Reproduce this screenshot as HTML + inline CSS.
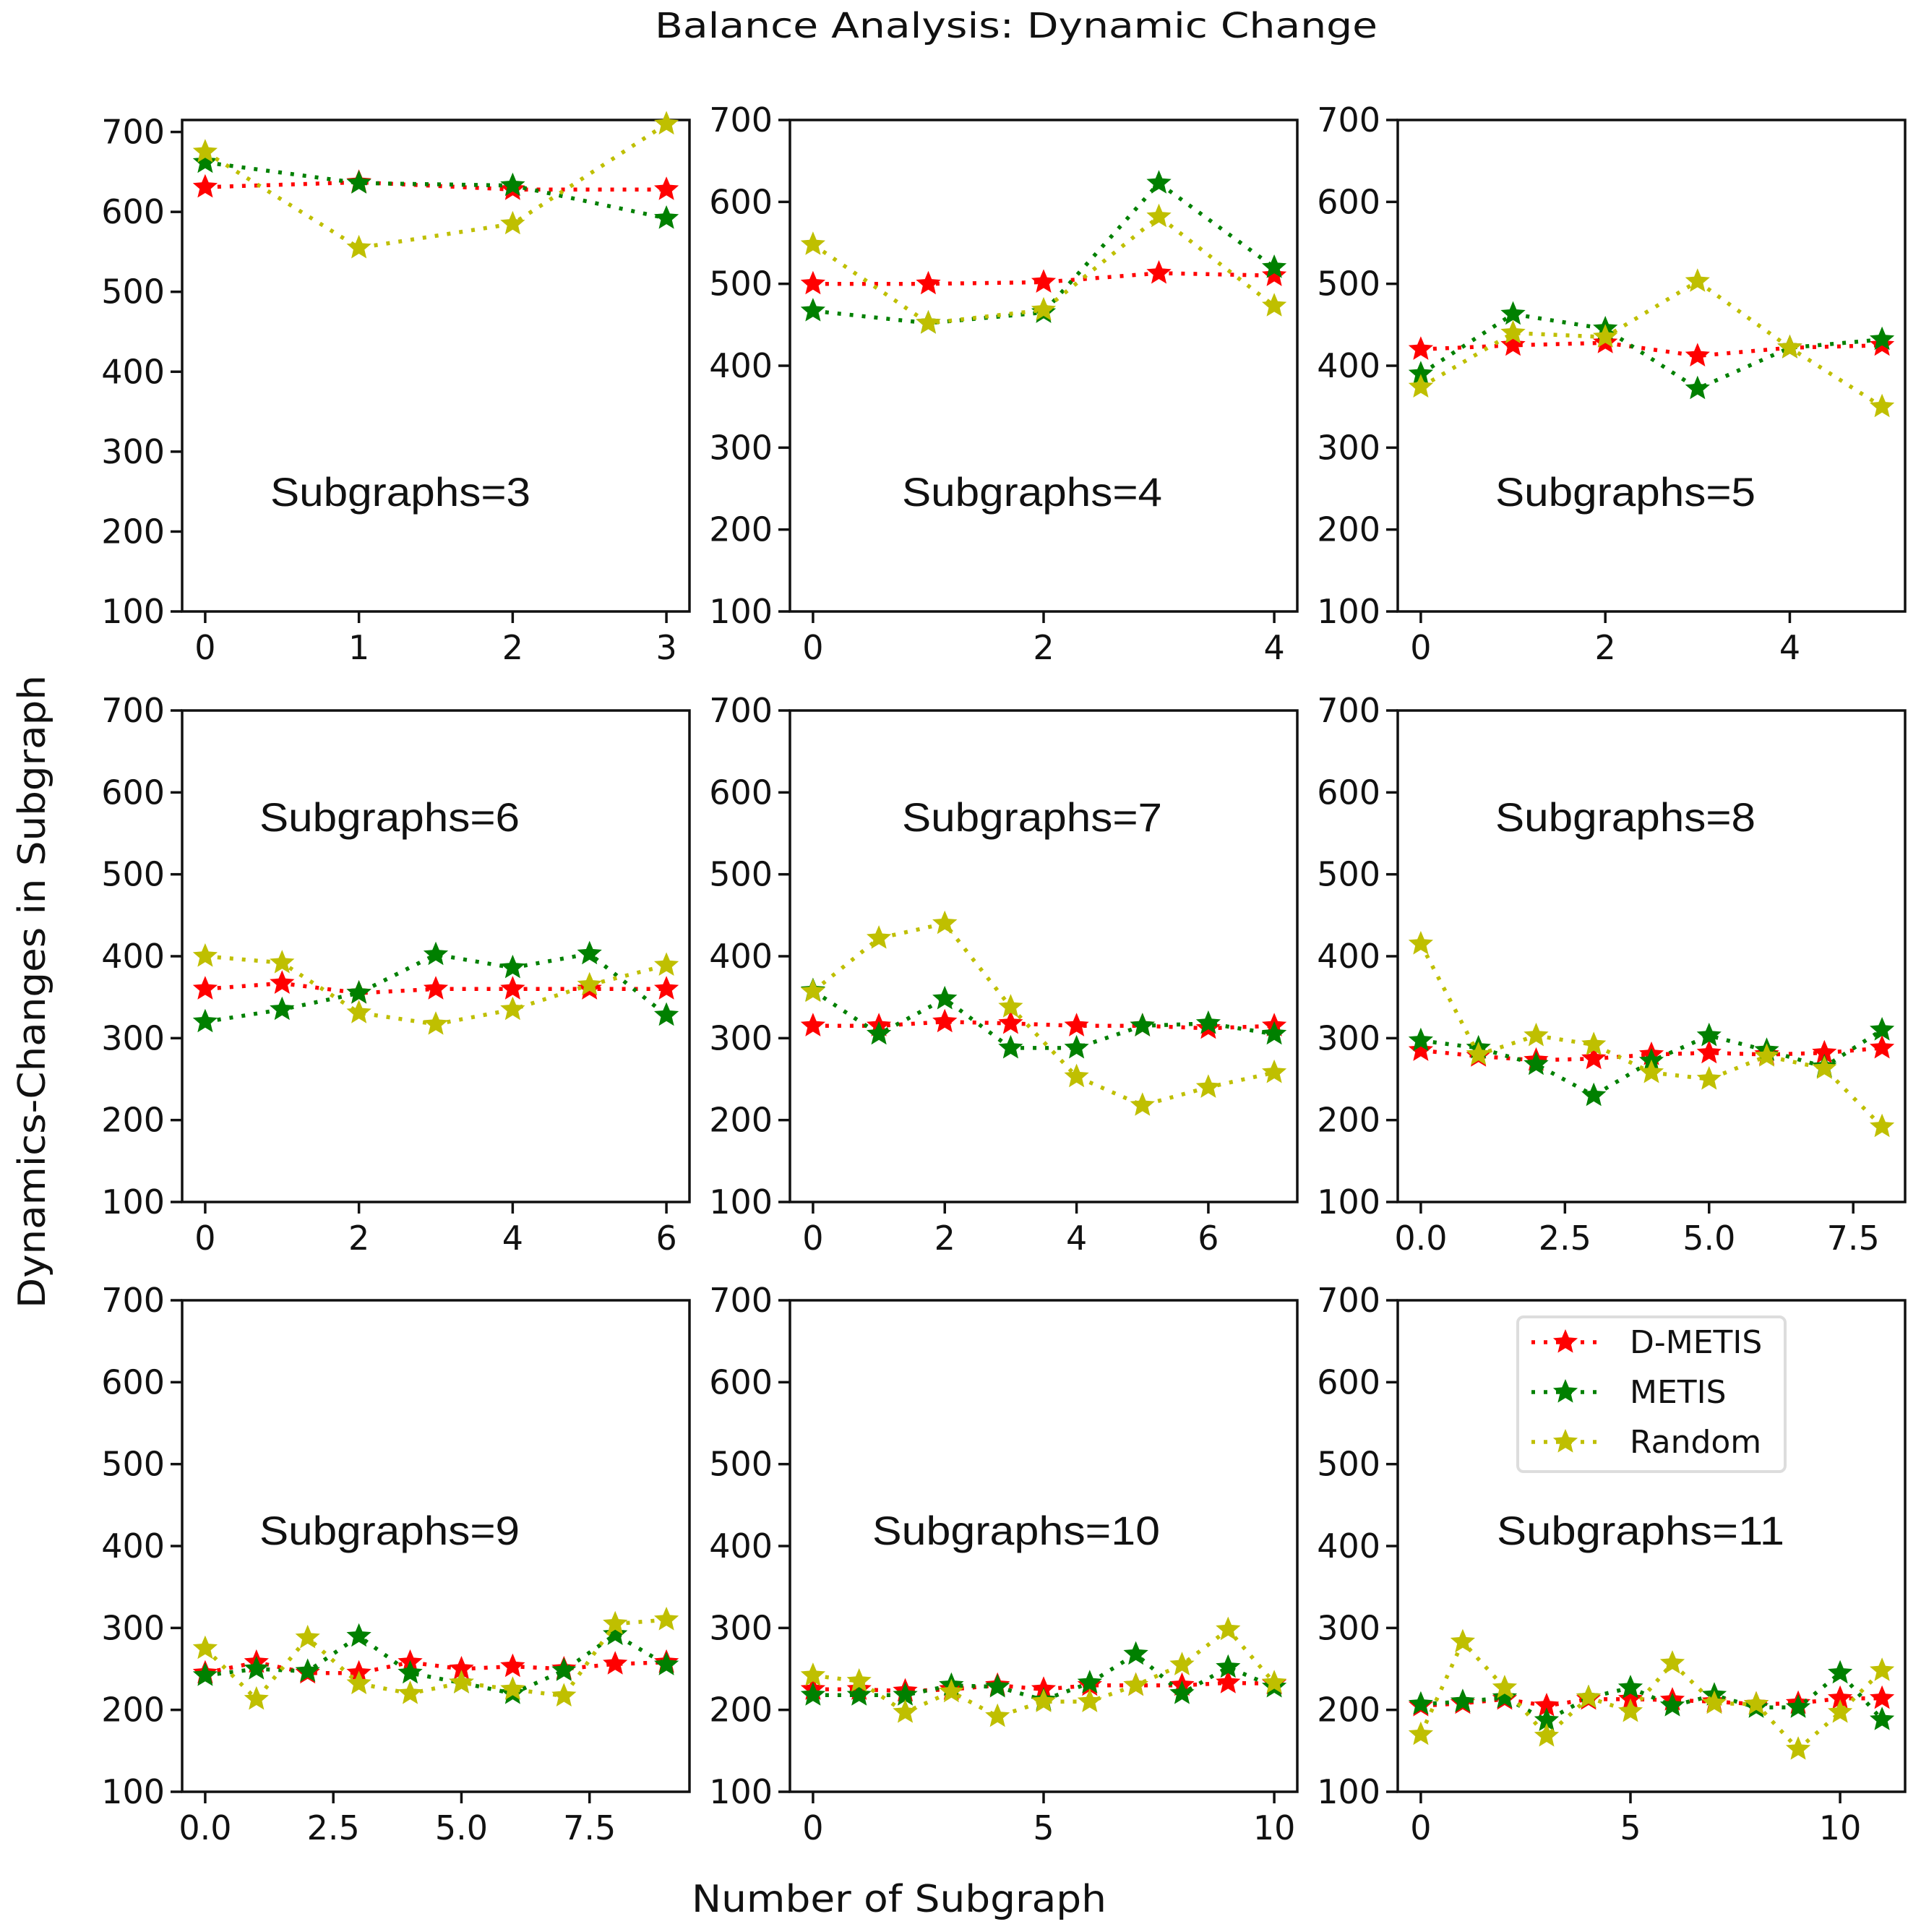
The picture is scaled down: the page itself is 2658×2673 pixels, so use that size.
<!DOCTYPE html>
<html><head><meta charset="utf-8"><style>
html,body{margin:0;padding:0;background:#fff;}
svg text{font-family:"DejaVu Sans","Liberation Sans",sans-serif;fill:#111;}
svg text.lab{font-family:"Liberation Sans","DejaVu Sans",sans-serif;}
</style></head><body>
<svg id="chart" width="2658" height="2668" viewBox="0 0 2658 2668" xmlns="http://www.w3.org/2000/svg">
<text x="1406" y="52" font-size="48" text-anchor="middle" textLength="1000" lengthAdjust="spacingAndGlyphs">Balance Analysis: Dynamic Change</text>
<text transform="translate(62,1372) rotate(-90)" font-size="52" text-anchor="middle" textLength="876" lengthAdjust="spacingAndGlyphs">Dynamics-Changes in Subgraph</text>
<text x="1244" y="2645" font-size="52" text-anchor="middle" textLength="574" lengthAdjust="spacingAndGlyphs">Number of Subgraph</text>
</svg>
<script>
const subgraphCounts = [3,4,5,6,7,8,9,10,11];
const dmetis = [
 [631,637,628,628],
 [500,500,502,513,510],
 [420,425,428,412,422,425],
 [360,367,355,360,360,360,360],
 [315,315,320,318,315,315,312,315],
 [285,278,273,275,280,282,280,282,288],
 [245,258,245,245,258,250,253,250,256,258],
 [225,225,223,225,230,225,230,230,230,233,232],
 [205,208,213,205,213,213,212,210,207,208,214,214]
];
const metis = [
 [662,636,633,592],
 [467,452,465,623,520],
 [390,463,445,372,422,432],
 [320,335,355,402,386,403,328],
 [358,305,348,288,288,315,318,305],
 [297,288,268,230,272,303,285,265,310],
 [242,250,247,290,245,233,220,248,292,255],
 [218,218,218,230,228,212,233,268,220,252,228],
 [207,210,215,187,215,227,205,218,203,203,245,188]
];
const random = [
 [675,555,585,710],
 [548,452,468,582,473],
 [374,440,435,503,422,350],
 [400,392,331,317,335,365,389],
 [357,422,440,338,253,218,240,258],
 [415,280,303,292,258,250,278,263,192],
 [275,213,288,232,220,233,225,217,305,310],
 [242,235,197,222,192,210,210,230,255,298,233],
 [170,283,227,168,215,198,257,208,207,152,197,248]
];
const xTickValues = [[0,1,2,3],[0,2,4],[0,2,4],[0,2,4,6],[0,2,4,6],[0,2.5,5,7.5],[0,2.5,5,7.5],[0,5,10],[0,5,10]];
const xTickLabels = [["0","1","2","3"],["0","2","4"],["0","2","4"],["0","2","4","6"],["0","2","4","6"],["0.0","2.5","5.0","7.5"],["0.0","2.5","5.0","7.5"],["0","5","10"],["0","5","10"]];
const yTicks = [100,200,300,400,500,600,700];
const seriesNames = ["D-METIS","METIS","Random"];
const seriesColors = ["#ff0000","#008000","#bfbf00"];

const NS="http://www.w3.org/2000/svg";
const svg=document.getElementById('chart');
function mk(tag,attrs,parent){const e=document.createElementNS(NS,tag);for(const k in attrs)e.setAttribute(k,attrs[k]);(parent||svg).appendChild(e);return e;}
function starPts(cx,cy,R){const r=R*0.45;let p=[];for(let i=0;i<10;i++){const a=-Math.PI/2+i*Math.PI/5;const rr=i%2?r:R;p.push((cx+rr*Math.cos(a)).toFixed(1)+','+(cy+rr*Math.sin(a)).toFixed(1));}return p.join(' ');}

const colLeft=[252,1093,1934], axW=702;
const rowTop=[166,983,1799], axH=680;
const labelPos=[[554,680],[1428,680],[2249,680],[539,1130],[1428,1130],[2249,1130],[539,2117],[1406,2117],[2270,2117]];

subgraphCounts.forEach((n,pi)=>{
  const r=Math.floor(pi/3), c=pi%3;
  const L=colLeft[c];
  const top=rowTop[r], y100=top+axH;
  const allVals=dmetis[pi].concat(metis[pi],random[pi]);
  const ymax=Math.max(700,Math.max(...allVals)+5);
  const yScale=v=>y100-(v-100)*(axH/(ymax-100));
  const nPts=dmetis[pi].length, xmax=nPts-1;
  const span=xmax*1.1;
  const xScale=v=>L+(v+xmax*0.05)/span*axW;
  const g=mk('g',{});
  
  
  const frame=mk('rect',{x:L,y:top,width:axW,height:axH,fill:'none',stroke:'#111','stroke-width':3.5},g);
  
  
  yTicks.forEach(t=>{
    const y=yScale(t);
    const tk=mk('line',{x1:L-16,x2:L,y1:y,y2:y,stroke:'#111','stroke-width':3.5},g);
    
    
    const tl=mk('text',{x:L-24,y:y+16,'font-size':46,'text-anchor':'end'},g);
    tl.textContent=t;
    
    
  });
  xTickValues[pi].forEach((t,i)=>{
    const x=xScale(t);
    const tk=mk('line',{x1:x,x2:x,y1:y100,y2:y100+16,stroke:'#111','stroke-width':3.5},g);
    
    
    const tl=mk('text',{x:x,y:y100+66,'font-size':46,'text-anchor':'middle'},g);
    tl.textContent=xTickLabels[pi][i];
    
    
  });
  const lp=labelPos[pi];
  const lab=mk('text',{class:'lab',x:lp[0],y:lp[1]+20,'font-size':56,'text-anchor':'middle',textLength:n>=10?398:360,lengthAdjust:'spacingAndGlyphs'},g);
  lab.textContent='Subgraphs='+n;
  
  
  [dmetis,metis,random].forEach((ser,si)=>{
    const vals=ser[pi];
    const pts=vals.map((v,i)=>xScale(i).toFixed(1)+','+yScale(v).toFixed(1)).join(' ');
    const pl=mk('polyline',{points:pts,fill:'none',stroke:seriesColors[si],'stroke-width':5.5,'stroke-dasharray':'5 12'},g);
    
    
    vals.forEach((v,i)=>{
      const s=mk('polygon',{points:starPts(xScale(i),yScale(v),18),fill:seriesColors[si]},g);
      
      
    });
  });
});
// legend
const lg=mk('g',{});


mk('rect',{x:2100,y:1822,width:370,height:214,rx:8,fill:'#fff',stroke:'#ddd','stroke-width':4},lg);
seriesNames.forEach((nm,i)=>{
  const y=1857+i*69;
  const ln=mk('line',{x1:2119,x2:2212,y1:y,y2:y,stroke:seriesColors[i],'stroke-width':5.5,'stroke-dasharray':'5 12'},lg);
  
  
  const st=mk('polygon',{points:starPts(2166,y,18),fill:seriesColors[i]},lg);
  
  
  const t=mk('text',{x:2255,y:y+15,'font-size':44},lg);
  t.textContent=nm;
  
  
});
</script>
</body></html>
